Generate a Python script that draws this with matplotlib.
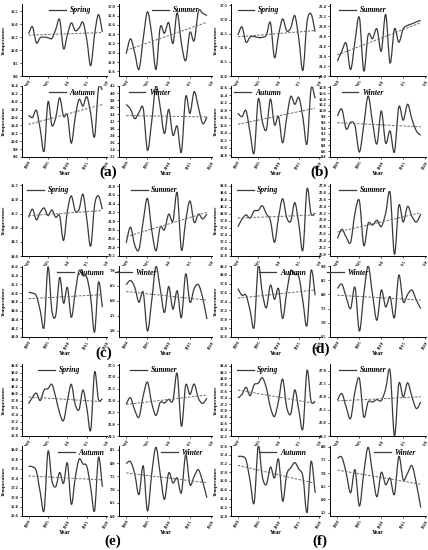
import numpy as np
import matplotlib
matplotlib.use("Agg")
import matplotlib.pyplot as plt
from matplotlib.path import Path
from matplotlib.patches import PathPatch
from matplotlib.lines import Line2D
from matplotlib.ticker import FormatStrFormatter

plt.rcParams['font.family'] = ['Liberation Serif', 'DejaVu Serif']
plt.rcParams['font.weight'] = 'bold'

# ---------------- data ----------------
years = list(range(2000, 2020))
seasons = ["Spring", "Summer", "Autumn", "Winter"]
panel_labels = ["(a)", "(b)", "(c)", "(d)", "(e)", "(f)"]
xticks = [2000, 2005, 2010, 2015, 2020]

a_spring = [10.63, 10.9, 10.28, 10.48, 10.5, 10.48, 10.45, 10.8, 11.18, 10.05, 10.6, 11.05, 10.75, 10.85, 11.07, 10.4, 9.4, 10.6, 11.37, 10.7]
a_summer = [15.98, 16.3, 16.0, 15.64, 16.3, 16.88, 16.4, 15.64, 16.55, 16.42, 16.65, 16.2, 16.86, 16.2, 15.83, 16.44, 16.26, 16.89, 16.85, 16.8]
a_autumn = [10.66, 10.6, 10.78, 10.3, 9.75, 11.0, 10.4, 10.6, 11.1, 10.63, 10.66, 9.95, 10.6, 11.06, 10.89, 11.13, 10.7, 10.11, 11.34, 11.3]
a_winter = [3.68, 3.55, 3.28, 3.45, 3.57, 2.39, 3.2, 4.2, 3.6, 2.86, 3.54, 2.81, 3.07, 2.34, 3.9, 3.43, 4.04, 3.6, 3.14, 3.33]

b_spring = [16.45, 16.74, 16.2, 16.38, 16.4, 16.36, 16.37, 16.45, 16.89, 15.65, 16.45, 17.02, 16.6, 16.7, 17.14, 16.3, 15.2, 16.9, 17.2, 16.57]
b_summer = [21.3, 21.5, 21.66, 21.13, 21.7, 22.18, 21.1, 21.83, 21.75, 21.95, 21.5, 22.24, 21.26, 21.95, 21.68, 21.95, 22.02, 22.05, 22.09, 22.12]
b_autumn = [15.92, 15.83, 15.99, 15.4, 14.86, 16.3, 15.7, 15.48, 16.3, 15.61, 15.83, 15.13, 15.8, 16.37, 16.16, 16.34, 15.8, 15.1, 16.57, 16.32]
b_winter = [9.82, 10.05, 9.37, 9.6, 9.48, 8.57, 9.5, 10.5, 9.6, 8.85, 9.99, 8.88, 9.3, 8.57, 10.13, 9.67, 10.22, 9.7, 9.3, 9.15]

c_spring = [15.37, 15.66, 15.28, 15.55, 15.7, 15.43, 15.63, 15.37, 15.42, 14.55, 15.6, 16.13, 15.6, 15.65, 16.19, 15.3, 14.35, 15.8, 16.13, 15.66]
c_summer = [20.5, 20.86, 20.45, 20.35, 21.0, 21.52, 20.8, 20.32, 20.86, 20.8, 21.16, 21.0, 21.65, 20.34, 21.0, 21.46, 20.97, 21.16, 21.05, 21.16]
c_autumn = [15.02, 15.0, 14.94, 14.6, 14.23, 15.6, 14.6, 14.5, 15.36, 14.77, 15.13, 14.45, 15.0, 15.51, 15.4, 15.36, 14.9, 14.11, 15.25, 14.68]
c_winter = [6.53, 6.67, 6.45, 5.95, 6.28, 5.0, 6.0, 7.13, 6.4, 5.61, 6.47, 5.72, 6.33, 5.44, 6.89, 5.95, 6.4, 6.53, 6.1, 5.39]

d_spring = [17.63, 17.85, 17.97, 17.88, 18.08, 18.1, 18.23, 18.0, 17.81, 17.19, 17.9, 18.43, 17.9, 17.79, 18.32, 17.7, 16.97, 18.71, 18.0, 18.02]
d_summer = [25.46, 25.73, 25.5, 25.35, 26.2, 26.56, 25.26, 25.9, 25.85, 25.99, 25.81, 26.2, 26.8, 25.0, 26.43, 25.94, 26.4, 26.1, 25.94, 26.17]
d_autumn = [17.69, 17.54, 17.54, 17.2, 16.83, 18.2, 17.6, 17.26, 17.77, 17.45, 17.69, 17.02, 17.6, 18.09, 18.01, 17.96, 17.4, 16.86, 18.1, 17.54]
d_winter = [8.21, 8.36, 7.9, 7.5, 8.25, 6.71, 8.0, 9.0, 8.0, 7.09, 8.15, 7.56, 7.92, 7.18, 8.68, 7.74, 8.0, 8.15, 7.8, 7.5]

e_spring = [17.72, 17.9, 18.02, 17.81, 18.11, 18.15, 18.27, 17.9, 17.45, 17.24, 17.8, 18.27, 17.7, 17.55, 18.11, 17.6, 16.97, 18.62, 17.84, 17.86]
e_summer = [25.85, 26.12, 25.6, 25.3, 26.2, 26.78, 25.9, 25.37, 25.92, 25.9, 26.05, 26.0, 27.15, 24.91, 26.65, 26.26, 26.7, 26.1, 25.88, 26.1]
e_autumn = [17.65, 17.64, 17.55, 17.1, 16.72, 17.97, 17.35, 17.22, 17.52, 17.29, 17.72, 16.85, 17.4, 17.8, 17.7, 17.65, 17.2, 16.71, 17.84, 17.22]
e_winter = [7.98, 8.06, 7.6, 6.81, 7.9, 6.19, 7.6, 8.6, 7.6, 6.63, 7.63, 7.25, 7.44, 6.88, 8.31, 7.19, 7.5, 7.75, 7.3, 6.69]

f_spring = [17.39, 17.5, 17.72, 17.46, 17.8, 17.85, 18.02, 17.7, 17.1, 16.81, 17.3, 17.98, 17.1, 16.89, 17.64, 17.0, 16.43, 18.25, 17.29, 17.29]
f_summer = [25.87, 26.12, 25.6, 25.17, 26.2, 26.69, 25.23, 25.8, 25.8, 25.89, 25.85, 26.3, 27.0, 24.5, 26.5, 25.99, 26.53, 26.0, 25.55, 25.8]
f_autumn = [17.36, 17.36, 17.28, 16.8, 16.3, 17.6, 16.9, 16.72, 17.12, 16.87, 17.3, 16.34, 16.95, 17.1, 17.22, 17.07, 16.9, 16.08, 17.25, 16.53]
f_winter = [7.56, 7.6, 7.0, 6.25, 7.13, 5.75, 7.0, 7.98, 7.0, 6.1, 7.03, 6.56, 6.81, 6.19, 7.63, 6.75, 7.0, 7.28, 6.6, 5.69]

panels = [
    [a_spring, a_summer, a_autumn, a_winter],
    [b_spring, b_summer, b_autumn, b_winter],
    [c_spring, c_summer, c_autumn, c_winter],
    [d_spring, d_summer, d_autumn, d_winter],
    [e_spring, e_summer, e_autumn, e_winter],
    [f_spring, f_summer, f_autumn, f_winter],
]

# y-axis tick specs: (first tick, last tick, step)
ytick_specs = [
    [(9.0, 11.5, 0.5), (15.6, 17.0, 0.2), (9.6, 11.4, 0.2), (2.2, 4.2, 0.2)],
    [(15.0, 17.5, 0.5), (21.0, 22.4, 0.2), (14.8, 16.6, 0.2), (8.4, 10.8, 0.2)],
    [(14.0, 16.5, 0.5), (20.2, 21.8, 0.2), (14.0, 15.6, 0.2), (5.0, 7.0, 0.5)],
    [(16.8, 18.8, 0.2), (25.0, 27.0, 0.2), (16.6, 18.2, 0.2), (6.5, 9.0, 0.5)],
    [(16.8, 18.8, 0.2), (24.5, 27.5, 0.5), (16.6, 18.0, 0.2), (6.0, 8.5, 0.5)],
    [(16.2, 18.4, 0.2), (24.5, 27.0, 0.5), (16.0, 17.6, 0.2), (5.5, 8.0, 0.5)],
]
ylims = [
    [(9.0, 11.78), (15.5, 17.05), (9.6, 11.4), (2.2, 4.2)],
    [(15.0, 17.55), (21.0, 22.45), (14.75, 16.65), (8.4, 10.85)],
    [(14.0, 16.55), (20.2, 21.85), (14.0, 15.62), (4.8, 7.15)],
    [(16.8, 18.85), (24.95, 27.05), (16.6, 18.2), (6.5, 9.0)],
    [(16.8, 18.85), (24.5, 27.55), (16.6, 18.08), (6.0, 8.65)],
    [(16.2, 18.45), (24.5, 27.25), (16.0, 17.6), (5.37, 8.03)],
]
legend_cx = [
    [0.57, 0.61, 0.59, 0.33],
    [0.31, 0.34, 0.30, 0.34],
    [0.31, 0.38, 0.69, 0.18],
    [0.30, 0.34, 0.58, 0.19],
    [0.44, 0.37, 0.70, 0.68],
    [0.30, 0.34, 0.58, 0.68],
]

# ---------------- layout ----------------
W, H = 428, 550
fig = plt.figure(figsize=(W / 100, H / 100), dpi=100)
fig.patch.set_facecolor('white')

col_x = [[(22, 107), (119, 212)], [(231, 320), (330, 426)]]
row_y = [[(4, 76), (86, 157)], [(184, 256), (266, 337)], [(364, 436), (446, 516)]]
label_pos = [(108, 172), (320, 172), (104, 353), (321, 349), (113, 541), (320, 541)]

LINE_C = '#3a3a3a'


def rect(x0, x1, y0, y1):
    return [x0 / W, 1 - y1 / H, (x1 - x0) / W, (y1 - y0) / H]


def smooth_path(x, y):
    x = np.asarray(x, float)
    y = np.asarray(y, float)
    n = len(x)
    verts = [(x[0], y[0])]
    codes = [Path.MOVETO]
    for i in range(n - 1):
        i0, i1, i2, i3 = max(i - 1, 0), i, i + 1, min(i + 2, n - 1)
        p0 = np.array([x[i0], y[i0]]); p1 = np.array([x[i1], y[i1]])
        p2 = np.array([x[i2], y[i2]]); p3 = np.array([x[i3], y[i3]])
        c1 = p1 + (p2 - p0) / 6.0
        c2 = p2 - (p3 - p1) / 6.0
        verts += [tuple(c1), tuple(c2), tuple(p2)]
        codes += [Path.CURVE4, Path.CURVE4, Path.CURVE4]
    return Path(verts, codes)


for p in range(6):
    prow, pcol = p // 2, p % 2
    for s in range(4):
        sr, sc = s // 2, s % 2
        x0, x1 = col_x[pcol][sc]
        y0, y1 = row_y[prow][sr]
        ax = fig.add_axes(rect(x0, x1, y0, y1))
        vals = panels[p][s]

        patch = PathPatch(smooth_path(years, vals), facecolor='none',
                          edgecolor=LINE_C, lw=0.9)
        ax.add_patch(patch)

        coef = np.polyfit(years, vals, 1)
        trend = np.polyval(coef, years)
        ax.plot(years, trend, color='#666666', lw=0.7, ls=(0, (2.5, 1.5)))

        ax.set_xlim(1998.3, 2020.2)
        ax.set_ylim(*ylims[p][s])
        t0, t1, st = ytick_specs[p][s]
        ax.set_yticks(np.round(np.arange(t0, t1 + st / 2, st), 2))
        ax.yaxis.set_major_formatter(FormatStrFormatter('%.1f'))
        ax.set_xticks(xticks)
        ax.set_xticklabels([str(v) for v in xticks], rotation=60,
                           ha='right', rotation_mode='anchor')

        for side in ['top', 'right']:
            ax.spines[side].set_visible(False)
        for side in ['left', 'bottom']:
            ax.spines[side].set_linewidth(0.7)
        ax.tick_params(axis='both', labelsize=3.2, length=1.5, width=0.5, pad=1)
        for lab in ax.get_xticklabels() + ax.get_yticklabels():
            lab.set_fontweight('bold')

        handle = Line2D([], [], color=LINE_C, lw=0.9)
        leg = ax.legend([handle], [seasons[s]], loc='upper center',
                        bbox_to_anchor=(legend_cx[p][s], 1.04), frameon=False,
                        handlelength=2.2, handletextpad=0.5, borderpad=0.2,
                        prop={'size': 5.5, 'style': 'italic', 'weight': 'bold',
                              'family': ['Liberation Serif', 'DejaVu Serif']})

        if sc == 0:
            ax.set_ylabel('Temperature', fontsize=3.8, fontweight='bold')
            ax.yaxis.set_label_coords(-0.19 if pcol == 0 else -0.15, 0.5)
        if sr == 1:
            ax.set_xlabel('Year', fontsize=4.2, fontweight='bold')
            ax.xaxis.set_label_coords(0.5, -0.2)

for p in range(6):
    lx, ly = label_pos[p]
    fig.text(lx / W, 1 - ly / H, panel_labels[p], ha='center', va='center',
             fontsize=11, fontweight='bold')

fig.savefig('out.png', dpi=100, facecolor='white')
